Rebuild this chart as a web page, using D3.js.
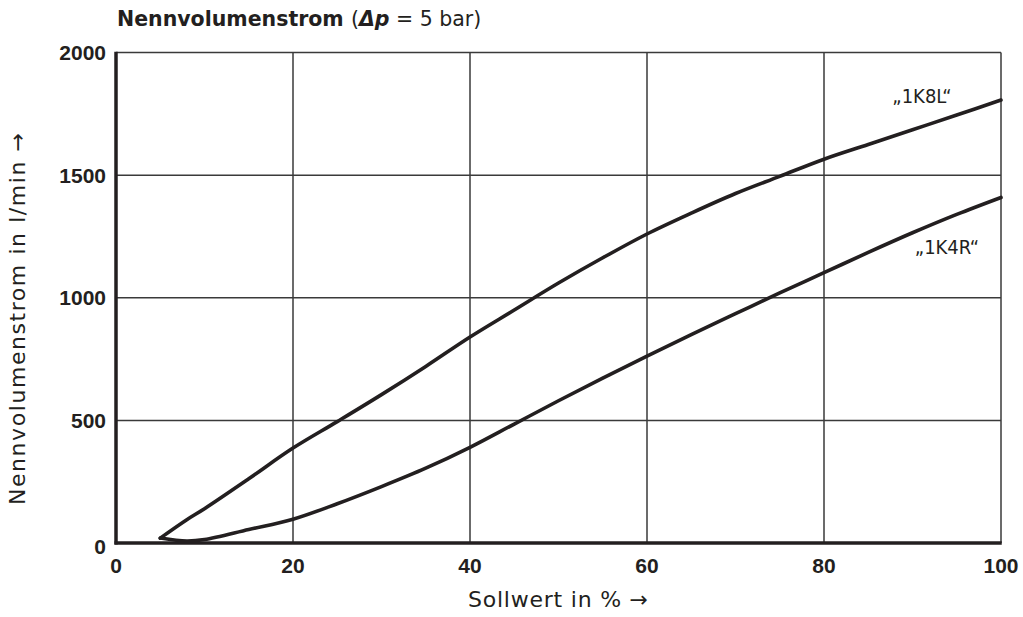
<!DOCTYPE html>
<meta charset="utf-8">
<style>
body { margin: 0; background: #fff; }
text { fill: #231f20; font-family: "DejaVu Sans", sans-serif; }
.grid line { stroke: #3a3a3a; stroke-width: 1.5px; }
.curve { fill: none; stroke: #231f20; stroke-width: 3.6px; stroke-linejoin: round; stroke-linecap: round; }
.tick-label { font-family: "Liberation Sans", Arial, sans-serif; font-weight: bold; font-size: 21px; }
.series-label { font-family: "DejaVu Sans Condensed", "DejaVu Sans", sans-serif; font-stretch: condensed; font-size: 20px; }
</style>
<svg width="1023" height="617"></svg>
<script src="https://cdnjs.cloudflare.com/ajax/libs/d3/7.8.5/d3.min.js"></script>
<script>

var xTicks = [0, 20, 40, 60, 80, 100];
var yTicks = [0, 500, 1000, 1500, 2000];

// Sollwert in %
var sollwert = [5, 8, 10, 15, 20, 25, 30, 35, 40, 45, 50, 55, 60, 65, 70, 75, 80, 85, 90, 95, 100];

// Nennvolumenstrom in l/min
var flow1K8L = [20, 95, 140, 262, 387, 495, 605, 720, 840, 950, 1060, 1163, 1260, 1345, 1425, 1495, 1565, 1625, 1685, 1745, 1806];
var flow1K4R = [20, 8, 14, 55, 97, 160, 230, 305, 390, 485, 580, 672, 762, 850, 935, 1020, 1102, 1185, 1265, 1340, 1409];

var seriesNames = ["\u201e1K8L\u201c", "\u201e1K4R\u201c"];

var svg = d3.select("svg");

var x = d3.scaleLinear().domain([0, 100]).range([116, 1001]);
var y = d3.scaleLinear().domain([0, 2000]).range([543, 52.5]);

// grid
var grid = svg.append("g").attr("class", "grid");
grid.selectAll(".vx")
    .data(xTicks.slice(1))
  .enter().append("line")
    .attr("x1", function(d) { return x(d); })
    .attr("x2", function(d) { return x(d); })
    .attr("y1", y(0))
    .attr("y2", y(2000));
grid.selectAll(".hy")
    .data(yTicks.slice(1))
  .enter().append("line")
    .attr("x1", x(0))
    .attr("x2", x(100))
    .attr("y1", function(d) { return y(d); })
    .attr("y2", function(d) { return y(d); });

// thick left and bottom axis lines
svg.append("line")
    .attr("x1", x(0)).attr("x2", x(0))
    .attr("y1", y(2000) - 0.75).attr("y2", y(0) + 1.5)
    .attr("stroke", "#231f20").attr("stroke-width", 3.5);
svg.append("line")
    .attr("x1", x(0) - 1.5).attr("x2", x(100) + 0.75)
    .attr("y1", y(0)).attr("y2", y(0))
    .attr("stroke", "#231f20").attr("stroke-width", 3.5);

// tick labels
svg.selectAll(".xl")
    .data(xTicks)
  .enter().append("text")
    .attr("class", "tick-label")
    .attr("x", function(d) { return x(d); })
    .attr("y", 573)
    .attr("text-anchor", "middle")
    .text(function(d) { return d; });

svg.selectAll(".yl")
    .data(yTicks)
  .enter().append("text")
    .attr("class", "tick-label")
    .attr("x", 106)
    .attr("y", function(d) { return y(d) + 7.5 + (d === 0 ? 3 : 0); })
    .attr("text-anchor", "end")
    .text(function(d) { return d; });

// curves
var line = d3.line()
    .x(function(d) { return x(d[0]); })
    .y(function(d) { return y(d[1]); })
    .curve(d3.curveCatmullRom.alpha(0.5));

[flow1K8L, flow1K4R].forEach(function(vals) {
  svg.append("path")
      .attr("class", "curve")
      .attr("d", line(sollwert.map(function(s, i) { return [s, vals[i]]; })));
});

// series labels
svg.append("text").attr("class", "series-label")
    .attr("x", 922).attr("y", 103).attr("text-anchor", "middle")
    .text(seriesNames[0]);
svg.append("text").attr("class", "series-label")
    .attr("x", 947).attr("y", 254).attr("text-anchor", "middle")
    .text(seriesNames[1]);

// title
var title = svg.append("text").attr("x", 117).attr("y", 26).style("font-size", "20.5px");
title.append("tspan").style("font-weight", "bold").text("Nennvolumenstrom ");
title.append("tspan").text("(");
title.append("tspan").style("font-weight", "bold").style("font-style", "italic").text("\u0394p");
title.append("tspan").text(" = 5 bar)");

// axis titles
svg.append("text")
    .attr("x", 468).attr("y", 607)
    .attr("textLength", 180)
    .attr("lengthAdjust", "spacing")
    .style("font-size", "22px")
    .text("Sollwert in % \u2192");

svg.append("text")
    .attr("transform", "translate(25,505) rotate(-90)")
    .attr("text-anchor", "start")
    .attr("textLength", 372)
    .attr("lengthAdjust", "spacing")
    .style("font-size", "22px")
    .text("Nennvolumenstrom in l/min \u2192");

</script>
